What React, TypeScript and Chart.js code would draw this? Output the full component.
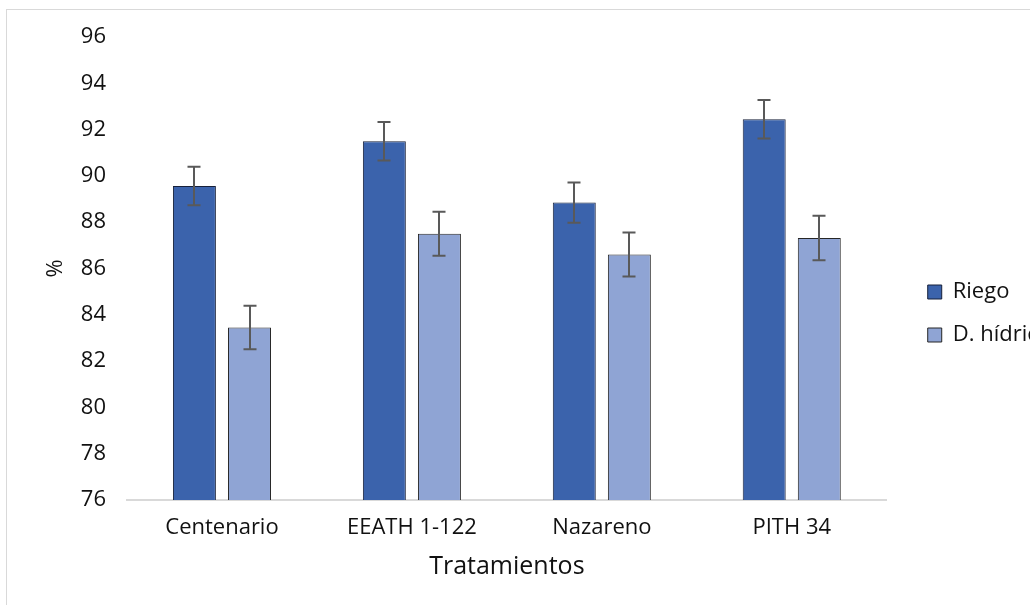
import React, { useEffect, useRef } from "react";
import { Chart, registerables } from "chart.js";

Chart.register(...registerables);

const categories = ["Centenario", "EEATH 1-122", "Nazareno", "PITH 34"];
const seriesNames = ["Riego", "D. hídrico"];
const riegoValues = [89.56, 91.5, 88.85, 92.45];
const hidricoValues = [83.45, 87.5, 86.6, 87.32];
const riegoErrors = [0.83, 0.83, 0.87, 0.83];
const hidricoErrors = [0.94, 0.95, 0.95, 0.96];
const yMin = 76;
const yMax = 96;
const yStep = 2;

const FONT = "'Open Sans'";
const TEXT = "#111111";

const errorBarPlugin = {
  id: "errorBars",
  afterDatasetsDraw(chart: any) {
    const { ctx } = chart;
    const yScale = chart.scales.y;
    const errs = [riegoErrors, hidricoErrors];
    ctx.save();
    ctx.strokeStyle = "#595959";
    ctx.lineWidth = 2;
    chart.data.datasets.forEach((ds: any, di: number) => {
      const meta = chart.getDatasetMeta(di);
      meta.data.forEach((bar: any, i: number) => {
        const v = ds.data[i];
        const e = errs[di][i];
        const yTop = yScale.getPixelForValue(v + e);
        const yBot = yScale.getPixelForValue(v - e);
        const x = Math.round(bar.x);
        ctx.beginPath();
        ctx.moveTo(x, yTop);
        ctx.lineTo(x, yBot);
        ctx.moveTo(x - 6.5, yTop);
        ctx.lineTo(x + 6.5, yTop);
        ctx.moveTo(x - 6.5, yBot);
        ctx.lineTo(x + 6.5, yBot);
        ctx.stroke();
      });
    });
    ctx.restore();
  },
};

export default function App() {
  const ref = useRef<HTMLCanvasElement | null>(null);

  useEffect(() => {
    if (!ref.current) return;
    const chart = new Chart(ref.current, {
      type: "bar",
      data: {
        labels: categories,
        datasets: [
          {
            label: seriesNames[0],
            data: riegoValues,
            backgroundColor: "#3B63AC",
            borderColor: "#17203a",
            borderWidth: 1,
            categoryPercentage: 0.58,
            barPercentage: 0.78,
          },
          {
            label: seriesNames[1],
            data: hidricoValues,
            backgroundColor: "#8FA4D4",
            borderColor: "#262626",
            borderWidth: 1,
            categoryPercentage: 0.58,
            barPercentage: 0.78,
          },
        ],
      },
      options: {
        animation: false,
        responsive: false,
        maintainAspectRatio: false,
        layout: { padding: { top: 27, left: 0, right: 0, bottom: 0 } },
        plugins: {
          legend: {
            position: "right",
            align: "center",
            labels: {
              boxWidth: 14,
              boxHeight: 14,
              padding: 21,
              color: TEXT,
              font: { family: FONT, size: 22 },
            },
          },
          tooltip: { enabled: false },
        },
        scales: {
          x: {
            grid: { display: false, drawTicks: false },
            border: { display: true, color: "#d9d9d9", width: 2 },
            ticks: {
              color: TEXT,
              padding: 15,
              font: { family: FONT, size: 22 },
            },
            title: {
              display: true,
              text: "Tratamientos",
              color: TEXT,
              font: { family: FONT, size: 25 },
              padding: { top: 0, bottom: 8 },
            },
            afterFit: (s: any) => {
              s.height = 90;
              s.paddingLeft = 0;
              s.paddingRight = 0;
            },
          },
          y: {
            min: yMin,
            max: yMax,
            grid: { display: false, drawTicks: false },
            border: { display: false },
            ticks: {
              stepSize: yStep,
              color: TEXT,
              padding: 21,
              font: { family: FONT, size: 22 },
            },
            title: {
              display: true,
              text: "%",
              color: TEXT,
              font: { family: FONT, size: 22 },
              padding: { top: 36, bottom: 0 },
            },
            afterFit: (s: any) => {
              s.width = 120;
              s.paddingTop = 0;
              s.paddingBottom = 0;
            },
          },
          yR: {
            type: "linear",
            position: "right",
            display: true,
            grid: { display: false, drawTicks: false },
            border: { display: false },
            ticks: { display: false },
            afterFit: (s: any) => {
              s.width = 20;
              s.paddingTop = 0;
              s.paddingBottom = 0;
            },
          },
        },
      },
      plugins: [errorBarPlugin],
    });
    return () => chart.destroy();
  }, []);

  return (
    <div
      style={{
        position: "fixed",
        left: 0,
        top: 0,
        width: 1030,
        height: 605,
        overflow: "hidden",
        background: "#ffffff",
      }}
    >
      <div
        style={{
          position: "absolute",
          left: 6,
          top: 9,
          width: 1100,
          height: 700,
          border: "1px solid #d9d9d9",
        }}
      >
        <canvas
          ref={ref}
          width={1054}
          height={580}
          style={{ display: "block", width: 1054, height: 580 }}
        />
      </div>
    </div>
  );
}
